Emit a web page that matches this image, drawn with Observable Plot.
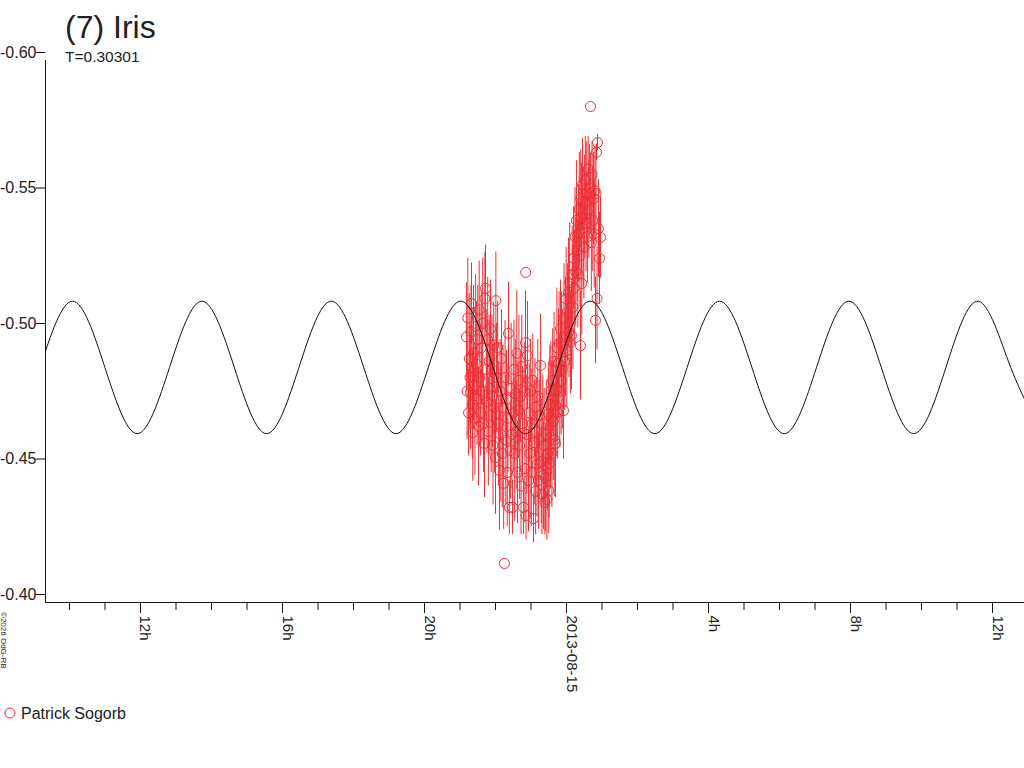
<!DOCTYPE html>
<html><head><meta charset="utf-8">
<script src="https://cdn.jsdelivr.net/npm/d3@7"></script>
<script src="https://cdn.jsdelivr.net/npm/@observablehq/plot@0.6"></script>
<style>
body{margin:0;background:#fff;}
#chart{width:1024px;height:768px;overflow:hidden;}
</style>
</head><body><div id="chart"></div>
<script>
// Observations (time in hours since 2013-08-14 00:00 UT, relative magnitude, error)
const obsTime = [
21.18,21.20,21.22,21.24,21.26,21.28,21.296,21.31,21.324,21.34,21.35,21.36,21.38,21.40,21.42,21.44,
21.46,21.48,21.50,21.52,21.54,21.56,21.58,21.60,21.62,21.64,21.66,21.69,21.70,21.718,21.74,
21.76,21.78,21.80,21.82,21.84,21.86,21.88,21.90,21.915,21.93,21.95,21.97,22.00,22.01,22.03,22.06,22.08,
22.11,22.13,22.15,22.17,22.19,22.21,22.23,22.25,22.27,22.29,22.31,22.33,22.35,22.366,22.39,22.42,22.44,22.46,22.48,
22.50,22.52,22.54,22.56,22.58,22.60,22.62,22.64,22.66,22.68,22.70,22.72,22.74,22.76,22.79,22.81,22.83,22.845,22.85,22.86,22.88,
22.90,22.93,22.95,22.97,22.99,23.01,23.03,23.05,23.07,23.09,23.11,23.13,23.15,23.17,23.19,23.21,23.23,23.25,23.27,
23.29,23.31,23.33,23.35,23.37,23.39,23.41,23.43,23.45,23.47,23.49,23.50,23.51,23.53,23.55,23.56,23.57,23.59,
23.61,23.63,23.65,23.67,23.69,23.70,23.71,23.73,23.75,23.775,23.79,23.81,23.83,23.85,23.86,23.88,23.915,
23.93,23.95,23.97,23.99,24.01,24.03,24.056,24.07,24.09,24.11,24.14,24.16,24.18,
24.20,24.22,24.24,24.26,24.28,24.30,24.32,24.34,24.36,24.38,24.394,24.40,24.42,24.43,24.45,24.47,24.49,
24.51,24.53,24.55,24.57,24.59,24.61,24.63,24.65,24.676,24.68,24.70,24.72,24.74,24.76,24.78,24.80,24.817,24.83,24.845,24.86,24.873,24.90,24.93,24.958
];
const obsMag = [
-0.498,-0.478,-0.505,-0.470,-0.490,-0.483,-0.4775,-0.500,-0.5103,-0.4867,-0.4731,-0.4627,-0.492,-0.480,-0.468,-0.502,
-0.488,-0.475,-0.497,-0.465,-0.508,-0.483,-0.470,-0.494,-0.478,-0.503,-0.466,-0.4587,-0.5122,-0.5159,-0.486,
-0.474,-0.497,-0.463,-0.489,-0.479,-0.501,-0.469,-0.486,-0.4764,-0.458,-0.495,-0.472,-0.4535,-0.5114,-0.483,-0.4941,-0.466,
-0.4487,-0.478,-0.462,-0.490,-0.455,-0.472,-0.444,-0.4144,-0.483,-0.460,-0.475,-0.448,-0.468,-0.4993,-0.4351,-0.4561,-0.479,-0.462,-0.4351,
-0.470,-0.486,-0.455,-0.477,-0.463,-0.492,-0.448,-0.471,-0.482,-0.458,-0.476,-0.443,-0.487,-0.466,-0.4351,-0.478,-0.4494,-0.4959,-0.5218,-0.4321,-0.462,
-0.4911,-0.4450,-0.470,-0.455,-0.478,-0.448,-0.466,-0.482,-0.4310,-0.459,-0.472,-0.441,-0.463,-0.451,-0.476,-0.445,-0.460,-0.469,-0.4875,
-0.452,-0.440,-0.466,-0.447,-0.458,-0.437,-0.4461,-0.462,-0.438,-0.455,-0.4697,-0.4413,-0.4513,-0.473,-0.4609,-0.4782,-0.4683,-0.455,
-0.482,-0.467,-0.489,-0.460,-0.4587,-0.4727,-0.4782,-0.494,-0.470,-0.4882,-0.4956,-0.478,-0.501,-0.4819,-0.4956,-0.486,-0.4708,
-0.505,-0.489,-0.498,-0.512,-0.493,-0.507,-0.5144,-0.500,-0.518,-0.496,-0.4985,-0.521,-0.509,
-0.527,-0.516,-0.535,-0.522,-0.541,-0.530,-0.5214,-0.5362,-0.545,-0.528,-0.4948,-0.549,-0.5421,-0.5177,-0.5542,-0.538,-0.531,
-0.547,-0.556,-0.540,-0.551,-0.535,-0.560,-0.545,-0.553,-0.5830,-0.5509,-0.5328,-0.558,-0.541,-0.549,-0.536,-0.552,-0.5041,-0.5509,-0.5661,-0.5122,-0.5697,-0.538,-0.527,-0.5347
];
const obsErr = [
0.020,0.018,0.022,0.016,0.024,0.019,0.021,0.017,0.015,0.022,0.020,0.018,0.025,0.016,0.021,0.019,
0.023,0.017,0.020,0.022,0.018,0.026,0.016,0.021,0.019,0.024,0.018,0.020,0.017,0.016,0.022,
0.019,0.023,0.020,0.017,0.025,0.018,0.021,0.020,0.019,0.022,0.016,0.024,0.021,0.018,0.020,0.017,0.023,
0.022,0.019,0.025,0.018,0.020,0.023,0.017,0,0.021,0.024,0.018,0.020,0.020,0.019,0.010,0.018,0.024,0.020,0.010,
0.022,0.018,0.025,0.020,0.019,0.023,0.019,0.018,0.024,0.020,0.017,0.018,0.019,0.021,0.010,0.018,0.020,0.019,0,0.009,0.022,
0.020,0.019,0.018,0.024,0.019,0.020,0.020,0.017,0.009,0.023,0.018,0.016,0.020,0.019,0.021,0.018,0.022,0.020,0.019,
0.023,0.015,0.018,0.020,0.021,0.012,0.020,0.020,0.015,0.021,0.019,0.016,0.020,0.022,0.019,0.018,0.021,0.020,
0.019,0.022,0.018,0.021,0.020,0.018,0.019,0.022,0.017,0.020,0.019,0.021,0.018,0.020,0.019,0.022,0.018,
0.020,0.018,0.022,0.019,0.021,0.018,0.020,0.017,0.022,0.019,0.020,0.018,0.023,
0.019,0.021,0.018,0.020,0.022,0.019,0.020,0.018,0.021,0.019,0.020,0.018,0.020,0.019,0.017,0.022,0.019,
0.018,0.016,0.018,0.019,0.017,0.012,0.018,0.016,0,0.015,0.018,0.012,0.019,0.017,0.020,0.016,0.016,0.017,0.003,0.019,0.003,0.018,0.017,0.015
];
// Model curve read at its extrema and mid-levels (hours since 2013-08-14 00:00 UT)
const modelTime = [9.174,10.085,10.996,11.908,12.819,13.730,14.641,15.553,16.464,17.375,18.286,19.198,20.109,21.020,21.931,22.843,23.754,24.665,25.576,26.488,27.399,28.310,29.221,30.133,31.044,31.955,32.866,33.778,34.689,35.600,36.511,37.423];
const modelMag = [-0.4868,-0.5112,-0.4868,-0.4623,-0.4868,-0.5112,-0.4868,-0.4623,-0.4868,-0.5112,-0.4868,-0.4623,-0.4868,-0.5112,-0.4868,-0.4623,-0.4868,-0.5112,-0.4868,-0.4623,-0.4868,-0.5112,-0.4868,-0.4623,-0.4868,-0.5112,-0.4868,-0.4623,-0.4868,-0.5112,-0.4868,-0.4623];
const xDomain = [9.324, 36.901];
const xMinorTicks = [10,11,12,13,14,15,16,17,18,19,20,21,22,23,24,25,26,27,28,29,30,31,32,33,34,35,36];
const xMajorTicks = [12,16,20,24,28,32,36];
const xMajorLabels = ["12h","16h","20h","2013-08-15","4h","8h","12h"];
const yTicks = [-0.60,-0.55,-0.50,-0.45,-0.40];
const observer = "Patrick Sogorb";
const titleText = "(7) Iris";
const subtitleText = "T=0.30301";
const copyrightText = "©2026 OdG-RB";

const red = "#ec2f36";
const obs = obsTime.map((t,i)=>({t, m: obsMag[i], e: obsErr[i]}));
const bars = obs.filter(d => d.e > 0);
const model = modelTime.map((t,i)=>({t, m: modelMag[i]}));
const font = "'Liberation Sans', Arial, sans-serif";

const svg = Plot.plot({
  width: 1024, height: 768,
  marginTop: 60, marginBottom: 166, marginLeft: 45, marginRight: 0,
  style: {fontFamily: font, color: "#222", background: "#fff"},
  x: {domain: xDomain},
  y: {domain: [-0.60, -0.40], reverse: true},
  marks: [
    Plot.ruleX(bars, {x: "t", y1: d=>d.m - d.e, y2: d=>d.m + d.e, stroke: red, strokeWidth: 1, clip: true}),
    Plot.dot(obs, {x: "t", y: "m", r: 5, stroke: red, strokeWidth: 1, fill: "none", clip: true}),
    Plot.line(model, {x: "t", y: "m", curve: "natural", stroke: "#111", strokeWidth: 1, clip: true}),
    Plot.frame({anchor: "left", stroke: "#111"}),
    Plot.frame({anchor: "bottom", stroke: "#111"}),
    Plot.axisY({ticks: yTicks, tickSize: 9, tickPadding: 0, tickFormat: d=>d.toFixed(2), dy: -8, fontSize: 16, label: null, stroke: "#111"}),
    Plot.axisX({ticks: xMinorTicks, tickSize: 8, tickFormat: ()=>"", label: null, stroke: "#111"}),
    Plot.axisX({ticks: xMajorTicks, tickSize: 11, tickFormat: ()=>"", label: null, stroke: "#111"}),
    Plot.text(xMajorTicks, {x: d=>d, text: (d,i)=>xMajorLabels[i], frameAnchor: "bottom", dy: 13, rotate: 90, textAnchor: "start", lineAnchor: "bottom", fontSize: 15, fill: "#222"})
  ]
});
document.getElementById("chart").appendChild(svg);

const s = d3.select(svg);
function addText(x, y, size, str, transform) {
  const t = s.append("text").attr("text-anchor", "start").attr("font-size", size)
    .attr("font-family", font).attr("fill", "#222").text(str);
  if (transform) t.attr("transform", transform); else t.attr("x", x).attr("y", y);
  return t;
}
addText(65, 38, 32, titleText);
addText(65, 62, 15.5, subtitleText);
s.append("circle").attr("cx", 10).attr("cy", 713).attr("r", 5).attr("fill", "none").attr("stroke", red);
addText(21, 719, 16, observer);
addText(0, 0, 8, copyrightText, "translate(1,612) rotate(90)");
</script>
</body></html>
